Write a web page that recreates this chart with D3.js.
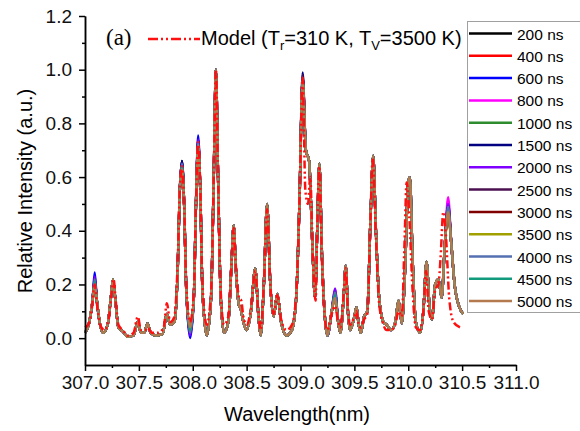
<!DOCTYPE html>
<html>
<head>
<meta charset="utf-8">
<script src="https://cdn.jsdelivr.net/npm/d3@7"></script>
<style>
    body { margin: 0; background: white; }
    svg { display: block; font-family: "Liberation Sans", Arial, sans-serif; }
    .axis path, .axis line { stroke: black; stroke-width: 1.5; }
    .axis text { font-size: 19px; fill: #111; }
</style>
</head>
<body>
<div id="chart"></div>
<script>
// measured spectrum (shared shape of all delay series)
const wavelengths = [
    307.00, 307.04, 307.07, 307.09, 307.11, 307.14, 307.17, 307.21, 307.24, 307.26, 307.28, 307.31, 307.35, 307.40, 307.45, 307.49, 307.52, 307.55, 307.58, 307.61,
    307.66, 307.72, 307.76, 307.79, 307.83, 307.86, 307.88, 307.90, 307.92, 307.94, 307.975, 308.01, 308.03, 308.05, 308.07, 308.09, 308.13, 308.17, 308.195, 308.215,
    308.235, 308.26, 308.29, 308.33, 308.36, 308.38, 308.40, 308.43, 308.445, 308.47, 308.50, 308.54, 308.58, 308.61, 308.63, 308.66, 308.69, 308.72, 308.75, 308.785,
    308.82, 308.87, 308.92, 308.96, 308.99, 309.02, 309.05, 309.08, 309.11, 309.135, 309.155, 309.175, 309.20, 309.23, 309.25, 309.29, 309.32, 309.35, 309.37, 309.40,
    309.42, 309.44, 309.46, 309.50, 309.52, 309.54, 309.56, 309.59, 309.62, 309.65, 309.675, 309.70, 309.73, 309.77, 309.80, 309.84, 309.88, 309.91, 309.94, 309.97,
    310.00, 310.015, 310.04, 310.07, 310.11, 310.14, 310.17, 310.20, 310.22, 310.25, 310.28, 310.31, 310.34, 310.37, 310.40, 310.43, 310.47, 310.51
];
const measured = [
    0.02, 0.06, 0.14, 0.22, 0.14, 0.05, 0.02, 0.05, 0.15, 0.22, 0.15, 0.04, 0.025, 0.005, 0.01, 0.06, 0.02, 0.02, 0.055, 0.02,
    0.01, 0.015, 0.09, 0.05, 0.06, 0.25, 0.55, 0.65, 0.5, 0.18, 0.03, 0.15, 0.5, 0.73, 0.55, 0.18, 0.01, 0.15, 0.6, 1.0,
    0.6, 0.15, 0.02, 0.06, 0.28, 0.42, 0.26, 0.12, 0.11, 0.06, 0.03, 0.1, 0.26, 0.08, 0.01, 0.2, 0.5, 0.2, 0.08, 0.165,
    0.06, 0.01, 0.03, 0.15, 0.5, 0.98, 0.7, 0.66, 0.35, 0.15, 0.4, 0.65, 0.3, 0.06, 0.01, 0.1, 0.17, 0.06, 0.02, 0.15,
    0.27, 0.1, 0.03, 0.08, 0.115, 0.05, 0.02, 0.08, 0.1, 0.45, 0.68, 0.4, 0.15, 0.06, 0.05, 0.03, 0.06, 0.14, 0.055, 0.25,
    0.58, 0.6, 0.3, 0.06, 0.02, 0.1, 0.285, 0.1, 0.07, 0.2, 0.22, 0.15, 0.35, 0.48, 0.35, 0.2, 0.12, 0.09
];

// where the delay series visibly differ from each other
const peakWavelengths = [307.09, 307.90, 307.975, 308.05, 309.02, 309.32, 310.37];
const delays = ["200 ns", "400 ns", "600 ns", "800 ns", "1000 ns", "1500 ns", "2000 ns",
                "2500 ns", "3000 ns", "3500 ns", "4000 ns", "4500 ns", "5000 ns"];
const peakHeights = [
    [0.22, 0.66, 0.02, 0.73, 0.97, 0.16, 0.48],
    [0.21, 0.64, 0.03, 0.72, 0.96, 0.15, 0.47],
    [0.245, 0.66, 0.0, 0.755, 0.97, 0.17, 0.50],
    [0.22, 0.64, 0.03, 0.72, 0.97, 0.18, 0.525],
    [0.21, 0.63, 0.03, 0.72, 0.96, 0.16, 0.48],
    [0.22, 0.66, 0.02, 0.74, 0.99, 0.17, 0.49],
    [0.23, 0.65, 0.01, 0.74, 0.97, 0.185, 0.50],
    [0.22, 0.65, 0.02, 0.73, 0.98, 0.17, 0.49],
    [0.21, 0.64, 0.03, 0.72, 0.97, 0.16, 0.48],
    [0.20, 0.63, 0.04, 0.71, 0.96, 0.15, 0.46],
    [0.22, 0.65, 0.02, 0.73, 0.97, 0.17, 0.49],
    [0.21, 0.64, 0.03, 0.72, 0.96, 0.16, 0.47],
    [0.20, 0.63, 0.04, 0.72, 0.96, 0.15, 0.47]
];

// simulated spectrum
const modelWavelengths = [
    307.00, 307.03, 307.06, 307.09, 307.11, 307.14, 307.18, 307.22, 307.245, 307.265, 307.285, 307.31, 307.35, 307.40, 307.45, 307.49, 307.52, 307.56, 307.58, 307.62,
    307.68, 307.73, 307.76, 307.79, 307.83, 307.86, 307.88, 307.90, 307.92, 307.94, 307.975, 308.01, 308.03, 308.05, 308.07, 308.09, 308.13, 308.17, 308.195, 308.215,
    308.235, 308.26, 308.29, 308.33, 308.36, 308.38, 308.40, 308.43, 308.45, 308.47, 308.50, 308.54, 308.58, 308.61, 308.63, 308.66, 308.69, 308.72, 308.75, 308.785,
    308.82, 308.87, 308.92, 308.96, 308.99, 309.02, 309.045, 309.07, 309.09, 309.115, 309.14, 309.155, 309.175, 309.20, 309.23, 309.25, 309.29, 309.32, 309.35, 309.37,
    309.40, 309.42, 309.44, 309.46, 309.50, 309.52, 309.54, 309.56, 309.59, 309.62, 309.65, 309.67, 309.70, 309.73, 309.77, 309.80, 309.84, 309.88, 309.91, 309.94,
    309.965, 309.985, 310.01, 310.04, 310.07, 310.11, 310.14, 310.165, 310.19, 310.22, 310.25, 310.28, 310.30, 310.325, 310.35, 310.38, 310.42, 310.48
];
const modelIntensity = [
    0.04, 0.05, 0.1, 0.2, 0.13, 0.05, 0.03, 0.07, 0.16, 0.22, 0.14, 0.05, 0.03, 0.01, 0.02, 0.08, 0.03, 0.03, 0.04, 0.02,
    0.02, 0.04, 0.13, 0.06, 0.08, 0.28, 0.55, 0.64, 0.5, 0.2, 0.06, 0.17, 0.5, 0.73, 0.56, 0.2, 0.05, 0.17, 0.6, 1.0,
    0.6, 0.17, 0.05, 0.08, 0.28, 0.41, 0.27, 0.15, 0.14, 0.08, 0.05, 0.11, 0.25, 0.09, 0.03, 0.2, 0.48, 0.2, 0.09, 0.16,
    0.07, 0.03, 0.05, 0.16, 0.5, 0.97, 0.55, 0.5, 0.6, 0.3, 0.14, 0.4, 0.64, 0.28, 0.06, 0.03, 0.09, 0.12, 0.06, 0.04,
    0.16, 0.26, 0.11, 0.05, 0.08, 0.1, 0.05, 0.04, 0.07, 0.09, 0.45, 0.67, 0.38, 0.13, 0.05, 0.03, 0.03, 0.05, 0.1, 0.08,
    0.35, 0.58, 0.45, 0.18, 0.04, 0.03, 0.1, 0.25, 0.1, 0.07, 0.18, 0.2, 0.3, 0.47, 0.38, 0.15, 0.06, 0.04
];

const xTicks = [307.0, 307.5, 308.0, 308.5, 309.0, 309.5, 310.0, 310.5, 311.0];
const yTicks = [0.0, 0.2, 0.4, 0.6, 0.8, 1.0, 1.2];

class spectraViz {
    constructor(parentElement) {
        this.parentElement = parentElement;
        this.initVis();
    }
    initVis() {
        let vis = this;
        vis.width = 580;
        vis.height = 431;

        vis.svg = d3.select("#" + vis.parentElement).append("svg")
            .attr("width", vis.width)
            .attr("height", vis.height);

        vis.x = d3.scaleLinear().domain([307, 311]).range([85, 516]);
        vis.y = d3.scaleLinear().domain([-0.1, 1.2]).range([365, 16]);

        vis.colors = d3.scaleOrdinal()
            .domain(delays)
            .range(["#000000", "#ff0000", "#0000ff", "#ff00ff", "#2e8b2e", "#000080", "#7f00ff",
                    "#4b1050", "#800000", "#a0a000", "#5470b0", "#129a7c", "#b47a4e"]);

        vis.wrangleData();
    }
    wrangleData() {
        let vis = this;
        vis.series = delays.map((name, i) => {
            let values = wavelengths.map((w, j) => {
                let k = peakWavelengths.findIndex(p => Math.abs(p - w) < 1e-6);
                return {w: w, v: k >= 0 ? peakHeights[i][k] : measured[j]};
            });
            return {name: name, values: values};
        });
        vis.model = modelWavelengths.map((w, j) => ({w: w, v: modelIntensity[j]}));
        vis.updateVis();
    }
    updateVis() {
        let vis = this;

        vis.line = d3.line()
            .x(d => vis.x(d.w))
            .y(d => vis.y(d.v))
            .curve(d3.curveMonotoneX);

        vis.svg.append("g").selectAll("path")
            .data(vis.series)
            .enter().append("path")
            .attr("d", d => vis.line(d.values))
            .attr("fill", "none")
            .attr("stroke", d => vis.colors(d.name))
            .attr("stroke-width", 2.4);

        vis.svg.append("path")
            .datum(vis.model)
            .attr("d", vis.line)
            .attr("fill", "none")
            .attr("stroke", "#ff1010")
            .attr("stroke-width", 2.5)
            .attr("stroke-dasharray", "8,3,2,3,2,3");

        // axes: majors with labels, minors without
        vis.svg.append("g")
            .attr("class", "axis")
            .attr("transform", "translate(0," + vis.y(-0.1) + ")")
            .call(d3.axisBottom(vis.x).tickValues(xTicks).tickFormat(d3.format(".1f"))
                .tickSize(6).tickSizeOuter(0).tickPadding(5));
        vis.svg.append("g")
            .attr("class", "axis")
            .attr("transform", "translate(0," + vis.y(-0.1) + ")")
            .call(d3.axisBottom(vis.x).tickValues(xTicks.slice(0, -1).map(t => t + 0.25)).tickFormat("")
                .tickSize(3).tickSizeOuter(0));

        vis.svg.append("g")
            .attr("class", "axis")
            .attr("transform", "translate(" + vis.x(307) + ",0)")
            .call(d3.axisLeft(vis.y).tickValues(yTicks).tickFormat(d3.format(".1f"))
                .tickSize(6).tickSizeOuter(0).tickPadding(7));
        vis.svg.append("g")
            .attr("class", "axis")
            .attr("transform", "translate(" + vis.x(307) + ",0)")
            .call(d3.axisLeft(vis.y).tickValues(yTicks.slice(0, -1).map(t => t + 0.1)).tickFormat("")
                .tickSize(3).tickSizeOuter(0));

        vis.svg.selectAll(".axis text").style("font-size", "19px");

        // axis titles
        vis.svg.append("text")
            .attr("x", 297)
            .attr("y", 421)
            .attr("text-anchor", "middle")
            .style("font-size", "20px")
            .text("Wavelength(nm)");

        vis.svg.append("text")
            .attr("transform", "rotate(-90)")
            .attr("x", -191)
            .attr("y", 32)
            .attr("text-anchor", "middle")
            .style("font-size", "20px")
            .text("Relative Intensity (a.u.)");

        // panel label and model legend
        vis.svg.append("text")
            .attr("x", 106)
            .attr("y", 45)
            .style("font-family", "'Liberation Serif', 'Times New Roman', serif")
            .style("font-size", "23px")
            .text("(a)");

        vis.svg.append("line")
            .attr("x1", 148).attr("x2", 200)
            .attr("y1", 39).attr("y2", 39)
            .attr("stroke", "#ff1010")
            .attr("stroke-width", 2.5)
            .attr("stroke-dasharray", "10,3,2,3,2,3");

        let model = vis.svg.append("text")
            .attr("x", 201)
            .attr("y", 45)
            .style("font-size", "20px");
        model.append("tspan").text("Model (T");
        model.append("tspan").attr("dy", 5).style("font-size", "13px").text("r");
        model.append("tspan").attr("dy", -5).text("=310 K, T");
        model.append("tspan").attr("dy", 5).style("font-size", "13px").text("V");
        model.append("tspan").attr("dy", -5).text("=3500 K)");

        // delay legend
        vis.svg.append("rect")
            .attr("x", 467.5).attr("y", 21.5)
            .attr("width", 140).attr("height", 291)
            .attr("fill", "white")
            .attr("stroke", "#a0a0a0")
            .attr("stroke-width", 1);

        let rows = vis.svg.append("g").selectAll("g")
            .data(delays)
            .enter().append("g")
            .attr("transform", (d, i) => "translate(0," + (33.5 + i * 22.3) + ")");
        rows.append("line")
            .attr("x1", 469).attr("x2", 512)
            .attr("stroke", d => vis.colors(d))
            .attr("stroke-width", 2.5);
        rows.append("text")
            .attr("x", 517)
            .attr("y", 6)
            .style("font-size", "15.5px")
            .text(d => d);
    }
}

new spectraViz("chart");
</script>
</body>
</html>
